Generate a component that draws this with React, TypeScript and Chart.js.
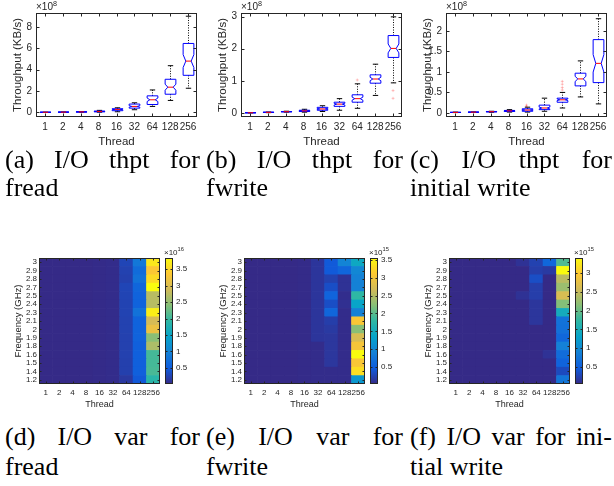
import React, { useEffect, useRef } from 'react';
import { Chart, registerables } from 'chart.js';

Chart.register(...registerables);

const SANS = '"Liberation Sans", Arial, Helvetica, sans-serif';
const SERIF = '"Liberation Serif", "Times New Roman", Times, serif';
const AXIS = '#262626';

// ---------- data ----------
const threads = ['1', '2', '4', '8', '16', '32', '64', '128', '256'];

// (a) fread throughput, x10^8 KB/s
const freadLow = [0.004, 0.006, 0.012, 0.02, 0.06, 0.25, 0.56, 1.12, 2.26];
const freadQ1 = [0.008, 0.015, 0.03, 0.05, 0.16, 0.4, 0.74, 1.7, 3.47];
const freadMed = [0.012, 0.025, 0.05, 0.09, 0.28, 0.56, 1.18, 2.36, 4.8];
const freadQ3 = [0.015, 0.03, 0.06, 0.12, 0.34, 0.78, 1.55, 3.1, 6.45];
const freadHigh = [0.02, 0.04, 0.08, 0.19, 0.43, 0.9, 2.1, 4.37, 9.0];
const freadOut: number[][] = [];

// (b) fwrite throughput, x10^8 KB/s
const fwriteLow = [0.005, 0.015, 0.03, 0.03, 0.05, 0.09, 0.15, 0.55, 0.94];
const fwriteQ1 = [0.01, 0.02, 0.04, 0.05, 0.09, 0.21, 0.34, 0.93, 1.73];
const fwriteMed = [0.012, 0.025, 0.045, 0.07, 0.13, 0.28, 0.45, 1.06, 2.01];
const fwriteQ3 = [0.015, 0.03, 0.05, 0.09, 0.18, 0.34, 0.57, 1.19, 2.41];
const fwriteHigh = [0.02, 0.035, 0.06, 0.12, 0.23, 0.45, 0.91, 1.52, 2.99];
const fwriteOut = [[6, 1.03], [8, 0.7], [8, 0.46]];

// (c) initial write throughput, x10^8 KB/s
const initLow = [0.008, 0.01, 0.015, 0.02, 0.02, 0.04, 0.12, 0.39, 0.22];
const initQ1 = [0.01, 0.015, 0.025, 0.035, 0.04, 0.08, 0.26, 0.66, 0.74];
const initMed = [0.012, 0.018, 0.03, 0.05, 0.07, 0.12, 0.32, 0.83, 1.21];
const initQ3 = [0.015, 0.02, 0.035, 0.06, 0.1, 0.19, 0.36, 0.97, 1.79];
const initHigh = [0.02, 0.025, 0.04, 0.08, 0.14, 0.36, 0.5, 1.27, 2.3];
const initOut = [[4, 0.16], [4, 0.19], [6, 0.56], [6, 0.62], [6, 0.7], [6, 0.77]];

const freadTicks = [0, 2, 4, 6, 8];
const fwriteTicks = [0, 1, 2, 3];
const initTicks = [0, 0.5, 1, 1.5, 2];

// heatmap rows, top (3 GHz) to bottom (1.2 GHz)
const freqs = ['3', '2.9', '2.8', '2.7', '2.5', '2.4', '2.3', '2.1', '2', '1.9', '1.8', '1.6', '1.5', '1.4', '1.2'];

// (d) fread variance, x10^16
const freadVar = [
  [0.01, 0.01, 0.01, 0.01, 0.02, 0.03, 0.27, 0.85, 3.65],
  [0.01, 0.01, 0.01, 0.01, 0.02, 0.03, 0.24, 0.69, 3.34],
  [0.01, 0.01, 0.01, 0.01, 0.02, 0.03, 0.22, 0.77, 3.53],
  [0.01, 0.01, 0.01, 0.01, 0.02, 0.03, 0.27, 0.62, 3.84],
  [0.01, 0.01, 0.01, 0.01, 0.02, 0.03, 0.26, 0.58, 2.72],
  [0.01, 0.01, 0.01, 0.01, 0.02, 0.03, 0.25, 0.58, 2.72],
  [0.01, 0.01, 0.01, 0.01, 0.02, 0.03, 0.25, 0.77, 3.72],
  [0.01, 0.01, 0.01, 0.01, 0.02, 0.03, 0.24, 0.58, 2.92],
  [0.01, 0.01, 0.01, 0.01, 0.02, 0.03, 0.24, 0.58, 3.15],
  [0.01, 0.01, 0.01, 0.01, 0.02, 0.03, 0.23, 0.58, 2.42],
  [0.01, 0.01, 0.01, 0.01, 0.02, 0.03, 0.23, 0.54, 2.65],
  [0.01, 0.01, 0.01, 0.01, 0.02, 0.03, 0.23, 0.54, 2.05],
  [0.01, 0.01, 0.01, 0.01, 0.02, 0.03, 0.22, 0.54, 2.05],
  [0.01, 0.01, 0.01, 0.01, 0.02, 0.03, 0.22, 0.54, 2.07],
  [0.01, 0.01, 0.01, 0.01, 0.02, 0.03, 0.15, 0.46, 1.88],
];

// (e) fwrite variance, x10^15
const fwriteVar = [
  [0.03, 0.03, 0.03, 0.03, 0.04, 0.13, 0.45, 0.95, 1.44],
  [0.03, 0.03, 0.03, 0.03, 0.04, 0.13, 0.45, 0.59, 0.98],
  [0.03, 0.03, 0.03, 0.03, 0.04, 0.13, 0.24, 0.1, 0.91],
  [0.03, 0.03, 0.03, 0.03, 0.04, 0.13, 0.35, 0.1, 0.91],
  [0.03, 0.03, 0.03, 0.03, 0.04, 0.13, 0.56, 0.06, 1.79],
  [0.03, 0.03, 0.03, 0.03, 0.04, 0.13, 0.35, 0.08, 1.37],
  [0.03, 0.03, 0.03, 0.03, 0.04, 0.13, 0.59, 0.05, 0.91],
  [0.03, 0.03, 0.03, 0.03, 0.04, 0.13, 0.21, 0.05, 3.06],
  [0.03, 0.03, 0.03, 0.03, 0.04, 0.13, 0.17, 0.05, 2.25],
  [0.03, 0.03, 0.03, 0.03, 0.04, 0.13, 0.14, 0.05, 2.74],
  [0.03, 0.03, 0.03, 0.03, 0.04, 0.05, 0.14, 0.05, 3.02],
  [0.03, 0.03, 0.03, 0.03, 0.04, 0.05, 0.14, 0.05, 3.55],
  [0.03, 0.03, 0.03, 0.03, 0.04, 0.05, 0.14, 0.05, 3.06],
  [0.03, 0.03, 0.03, 0.03, 0.04, 0.05, 0.05, 0.05, 3.3],
  [0.03, 0.03, 0.03, 0.03, 0.04, 0.05, 0.05, 0.05, 1.19],
];

// (f) initial write variance, x10^15
const initVar = [
  [0.05, 0.05, 0.05, 0.05, 0.05, 0.12, 0.25, 0.59, 1.89],
  [0.05, 0.05, 0.05, 0.05, 0.05, 0.05, 0.22, 0.18, 3.4],
  [0.05, 0.05, 0.05, 0.05, 0.05, 0.05, 0.35, 0.05, 2.43],
  [0.05, 0.05, 0.05, 0.05, 0.05, 0.05, 0.22, 0.05, 2.26],
  [0.05, 0.05, 0.05, 0.05, 0.05, 0.12, 0.22, 0.05, 2.63],
  [0.05, 0.05, 0.05, 0.05, 0.05, 0.05, 0.15, 0.05, 2.13],
  [0.05, 0.05, 0.05, 0.05, 0.05, 0.05, 0.15, 0.05, 1.46],
  [0.05, 0.05, 0.05, 0.05, 0.05, 0.05, 0.15, 0.05, 0.72],
  [0.05, 0.05, 0.05, 0.05, 0.05, 0.05, 0.05, 0.05, 0.69],
  [0.05, 0.05, 0.05, 0.05, 0.05, 0.05, 0.05, 0.05, 0.59],
  [0.05, 0.05, 0.05, 0.05, 0.05, 0.05, 0.05, 0.05, 0.89],
  [0.05, 0.05, 0.05, 0.05, 0.05, 0.05, 0.05, 0.12, 0.65],
  [0.05, 0.05, 0.05, 0.05, 0.05, 0.05, 0.05, 0.05, 0.55],
  [0.05, 0.05, 0.05, 0.05, 0.05, 0.05, 0.05, 0.05, 0.32],
  [0.05, 0.05, 0.05, 0.05, 0.05, 0.05, 0.05, 0.05, 0.75],
];

const freadCbTicks = [0.5, 1, 1.5, 2, 2.5, 3, 3.5];
const fwriteCbTicks = [0.5, 1, 1.5, 2, 2.5, 3, 3.5];
const initCbTicks = [0.5, 1, 1.5, 2, 2.5, 3];

// ---------- colormap ----------
const PARULA = [
  [53, 42, 135], [15, 92, 221], [20, 129, 214], [6, 164, 202], [46, 183, 164],
  [135, 191, 119], [209, 187, 89], [254, 200, 50], [249, 251, 14],
];
function rgb(p: number[]) {
  return `rgb(${Math.round(p[0])},${Math.round(p[1])},${Math.round(p[2])})`;
}
function parula(t: number) {
  const n = PARULA.length;
  const c = Math.max(0, Math.min(1, t)) * (n - 1);
  const i = Math.min(Math.floor(c), n - 2);
  const f = c - i;
  const a = PARULA[i], b = PARULA[i + 1];
  return rgb([a[0] + (b[0] - a[0]) * f, a[1] + (b[1] - a[1]) * f, a[2] + (b[2] - a[2]) * f]);
}

// ---------- plugins ----------
function makeBoxPlugin(low: number[], q1: number[], med: number[], q3: number[], high: number[], out: number[][]) {
  return {
    id: 'boxDraw',
    afterDatasetsDraw(chart: any) {
      const { ctx } = chart;
      const xs = chart.scales.x, ys = chart.scales.y;
      const step = xs.getPixelForValue(1) - xs.getPixelForValue(0);
      const hw = step * 0.3;
      const N = 60;
      ctx.save();
      // outliers (faint)
      ctx.strokeStyle = 'rgba(255,0,0,0.22)';
      ctx.lineWidth = 1;
      ctx.beginPath();
      out.forEach(([i, v]) => {
        const x = xs.getPixelForValue(i), y = ys.getPixelForValue(v);
        ctx.moveTo(x - 1.5, y); ctx.lineTo(x + 1.5, y);
        ctx.moveTo(x, y - 1.5); ctx.lineTo(x, y + 1.5);
      });
      ctx.stroke();
      for (let i = 0; i < med.length; i++) {
        const x = Math.round(xs.getPixelForValue(i)) + 0.5;
        const yl = ys.getPixelForValue(low[i]);
        const y1 = ys.getPixelForValue(q1[i]);
        const ym = ys.getPixelForValue(med[i]);
        const y3 = ys.getPixelForValue(q3[i]);
        const yh = ys.getPixelForValue(high[i]);
        // whiskers
        ctx.strokeStyle = '#000';
        ctx.lineWidth = 1;
        ctx.setLineDash([1, 1.5]);
        ctx.beginPath();
        ctx.moveTo(x, y3); ctx.lineTo(x, yh);
        ctx.moveTo(x, y1); ctx.lineTo(x, yl);
        ctx.stroke();
        ctx.setLineDash([]);
        ctx.beginPath();
        ctx.moveTo(x - hw / 2, yh); ctx.lineTo(x + hw / 2, yh);
        ctx.moveTo(x - hw / 2, yl); ctx.lineTo(x + hw / 2, yl);
        ctx.stroke();
        // notched box
        const nh = (1.57 * (q3[i] - q1[i])) / Math.sqrt(N);
        const yNl = ys.getPixelForValue(Math.max(q1[i], med[i] - nh));
        const yNh = ys.getPixelForValue(Math.min(q3[i], med[i] + nh));
        ctx.strokeStyle = '#0000ff';
        ctx.beginPath();
        ctx.moveTo(x - hw, y1);
        ctx.lineTo(x - hw, yNl);
        ctx.lineTo(x - hw / 2, ym);
        ctx.lineTo(x - hw, yNh);
        ctx.lineTo(x - hw, y3);
        ctx.lineTo(x + hw, y3);
        ctx.lineTo(x + hw, yNh);
        ctx.lineTo(x + hw / 2, ym);
        ctx.lineTo(x + hw, yNl);
        ctx.lineTo(x + hw, y1);
        ctx.closePath();
        ctx.stroke();
        // median
        ctx.strokeStyle = '#ff0000';
        ctx.beginPath();
        ctx.moveTo(x - hw / 2, ym); ctx.lineTo(x + hw / 2, ym);
        ctx.stroke();
      }
      ctx.restore();
    },
  };
}

function drawExponent(ctx: CanvasRenderingContext2D, x: number, y: number, exp: string, size: number) {
  ctx.fillStyle = AXIS;
  ctx.textAlign = 'left';
  ctx.textBaseline = 'alphabetic';
  ctx.font = `${size}px ${SANS}`;
  ctx.fillText('×10', x, y);
  const w = ctx.measureText('×10').width;
  ctx.font = `${size * 0.72}px ${SANS}`;
  ctx.fillText(exp, x + w, y - size * 0.45);
}

function makeAxesPlugin(exp: string | null, expSize: number, tl: number) {
  return {
    id: 'matlabAxes',
    afterDraw(chart: any) {
      const { ctx, chartArea: a } = chart;
      const xs = chart.scales.x, ys = chart.scales.y;
      const L = Math.round(a.left) + 0.5, R = Math.round(a.right) - 0.5;
      const T = Math.round(a.top) + 0.5, B = Math.round(a.bottom) - 0.5;
      ctx.save();
      ctx.strokeStyle = AXIS;
      ctx.lineWidth = 1;
      ctx.strokeRect(L, T, R - L, B - T);
      ctx.beginPath();
      xs.ticks.forEach((_t: any, i: number) => {
        const x = Math.round(xs.getPixelForTick(i)) + 0.5;
        ctx.moveTo(x, B); ctx.lineTo(x, B - tl);
        ctx.moveTo(x, T); ctx.lineTo(x, T + tl);
      });
      ys.ticks.forEach((t: any) => {
        const y = Math.round(ys.getPixelForValue(t.value)) + 0.5;
        ctx.moveTo(L, y); ctx.lineTo(L + tl, y);
        ctx.moveTo(R, y); ctx.lineTo(R - tl, y);
      });
      ctx.stroke();
      if (exp) drawExponent(ctx, a.left, a.top - 3, exp, expSize);
      ctx.restore();
    },
  };
}

function makeCbarPlugin(exp: string) {
  return {
    id: 'cbarFrame',
    afterDraw(chart: any) {
      const { ctx, chartArea: a } = chart;
      const ys = chart.scales.y;
      const L = Math.round(a.left) + 0.5, R = Math.round(a.right) - 0.5;
      const T = Math.round(a.top) + 0.5, B = Math.round(a.bottom) - 0.5;
      ctx.save();
      ctx.strokeStyle = AXIS;
      ctx.lineWidth = 1;
      ctx.strokeRect(L, T, R - L, B - T);
      ctx.beginPath();
      ys.ticks.forEach((t: any) => {
        const y = Math.round(ys.getPixelForValue(t.value)) + 0.5;
        ctx.moveTo(R, y); ctx.lineTo(R - 2, y);
        ctx.moveTo(L, y); ctx.lineTo(L + 2, y);
      });
      ctx.stroke();
      drawExponent(ctx, a.left - 1, a.top - 3, exp, 8);
      ctx.restore();
    },
  };
}

// ---------- configs ----------
function boxConfig(low: number[], q1: number[], med: number[], q3: number[], high: number[], out: number[][], yMin: number, yMax: number, yTicks: number[]) {
  return {
    type: 'bar',
    data: {
      labels: threads,
      datasets: [{
        data: threads.map((_, i) => [q1[i], q3[i]]),
        backgroundColor: 'rgba(0,0,0,0)',
        borderWidth: 0,
      }],
    },
    options: {
      animation: false,
      responsive: false,
      events: [],
      layout: { padding: { top: 13, right: 8, left: 0, bottom: 0 } },
      plugins: { legend: { display: false }, tooltip: { enabled: false } },
      scales: {
        x: {
          grid: { display: false, drawTicks: false },
          border: { display: false },
          ticks: { autoSkip: false, maxRotation: 0, minRotation: 0, color: AXIS, font: { family: SANS, size: 10 }, padding: 4 },
          title: { display: true, text: 'Thread', color: AXIS, font: { family: SANS, size: 11.5 }, padding: { top: 0, bottom: 1 } },
          afterFit: (s: any) => { s.height = 33; },
        },
        y: {
          min: yMin,
          max: yMax,
          grid: { display: false, drawTicks: false },
          border: { display: false },
          afterBuildTicks: (s: any) => { s.ticks = yTicks.map((v) => ({ value: v })); },
          ticks: { autoSkip: false, color: AXIS, font: { family: SANS, size: 10 }, padding: 4, callback: (v: any) => String(v) },
          title: { display: true, text: 'Throughput (KB/s)', color: AXIS, font: { family: SANS, size: 11.5 }, padding: { top: 11, bottom: 0 } },
          afterFit: (s: any) => { s.width = 36; },
        },
      },
    },
    plugins: [makeBoxPlugin(low, q1, med, q3, high, out), makeAxesPlugin('8', 10, 3)],
  };
}

function range(m: number[][]) {
  const flat = m.flat();
  return [Math.min(...flat), Math.max(...flat)];
}

function heatConfig(matrix: number[][]) {
  const [lo, hi] = range(matrix);
  const rows = [...matrix].reverse();
  const labels = [...freqs].reverse();
  return {
    type: 'bar',
    data: {
      labels: threads,
      datasets: rows.map((row, r) => ({
        label: labels[r],
        data: row.map(() => 1),
        backgroundColor: row.map((v) => parula((v - lo) / (hi - lo))),
        borderWidth: 0,
        barPercentage: 1,
        categoryPercentage: 1,
        stack: 'cells',
      })),
    },
    options: {
      animation: false,
      responsive: false,
      events: [],
      layout: { padding: { top: 8, right: 2, left: 0, bottom: 0 } },
      plugins: { legend: { display: false }, tooltip: { enabled: false } },
      scales: {
        x: {
          stacked: true,
          grid: { display: false, drawTicks: false },
          border: { display: false },
          ticks: { autoSkip: false, maxRotation: 0, minRotation: 0, color: AXIS, font: { family: SANS, size: 8 }, padding: 4 },
          title: { display: true, text: 'Thread', color: AXIS, font: { family: SANS, size: 9 }, padding: { top: 0, bottom: 2 } },
          afterFit: (s: any) => { s.height = 28; },
        },
        y: {
          stacked: true,
          min: 0,
          max: labels.length,
          grid: { display: false, drawTicks: false },
          border: { display: false },
          afterBuildTicks: (s: any) => { s.ticks = labels.map((_, i) => ({ value: i + 0.5 })); },
          ticks: { autoSkip: false, color: AXIS, font: { family: SANS, size: 8, lineHeight: 1 }, padding: 2, callback: (_v: any, i: number) => labels[i] },
          title: { display: true, text: 'Frequency (GHz)', color: AXIS, font: { family: SANS, size: 9.5 }, padding: { top: 13, bottom: 0 } },
          afterFit: (s: any) => { s.width = 39; },
        },
      },
    },
    plugins: [makeAxesPlugin(null, 8, 2)],
  };
}

function cbarConfig(matrix: number[][], ticks: number[], exp: string) {
  const [lo, hi] = range(matrix);
  return {
    type: 'bar',
    data: {
      labels: [''],
      datasets: [{
        data: [[lo, hi]],
        backgroundColor: (c: any) => {
          const a = c.chart.chartArea;
          if (!a) return rgb(PARULA[0]);
          const g = c.chart.ctx.createLinearGradient(0, a.bottom, 0, a.top);
          PARULA.forEach((p, i) => g.addColorStop(i / (PARULA.length - 1), rgb(p)));
          return g;
        },
        borderWidth: 0,
        barPercentage: 1,
        categoryPercentage: 1,
      }],
    },
    options: {
      animation: false,
      responsive: false,
      events: [],
      layout: { padding: { top: 18, left: 1, right: 0, bottom: 28 } },
      plugins: { legend: { display: false }, tooltip: { enabled: false } },
      scales: {
        x: { display: false },
        y: {
          position: 'right',
          min: lo,
          max: hi,
          grid: { display: false, drawTicks: false },
          border: { display: false },
          afterBuildTicks: (s: any) => { s.ticks = ticks.map((v) => ({ value: v })); },
          ticks: { autoSkip: false, color: AXIS, font: { family: SANS, size: 8 }, padding: 3, callback: (v: any) => String(v) },
          afterFit: (s: any) => { s.width = 31; },
        },
      },
    },
    plugins: [makeCbarPlugin(exp)],
  };
}

// ---------- components ----------
function ChartCanvas({ left, top, width, height, make }: { left: number; top: number; width: number; height: number; make: () => any }) {
  const ref = useRef<HTMLCanvasElement>(null);
  useEffect(() => {
    const chart = new Chart(ref.current as HTMLCanvasElement, make());
    return () => chart.destroy();
  }, []);
  return (
    <canvas
      ref={ref}
      width={width}
      height={height}
      style={{ position: 'absolute', left, top, width, height }}
    />
  );
}

function Caption({ left, top, width, lh, line1, line2 }: { left: number; top: number; width: number; lh: number; line1: string; line2: string }) {
  return (
    <div style={{ position: 'absolute', left, top, width, fontFamily: SERIF, fontSize: 26, lineHeight: `${lh}px`, color: '#000' }}>
      <div style={{ textAlign: 'justify', textAlignLast: 'justify' as any }}>{line1}</div>
      <div>{line2}</div>
    </div>
  );
}

export default function App() {
  return (
    <div style={{ position: 'absolute', left: 0, top: 0, width: 614, height: 486, background: '#fff', overflow: 'hidden' }}>
      <ChartCanvas left={0} top={0} width={205} height={150}
        make={() => boxConfig(freadLow, freadQ1, freadMed, freadQ3, freadHigh, freadOut, -0.43, 9.3, freadTicks)} />
      <ChartCanvas left={205} top={0} width={205} height={150}
        make={() => boxConfig(fwriteLow, fwriteQ1, fwriteMed, fwriteQ3, fwriteHigh, fwriteOut, -0.12, 3.11, fwriteTicks)} />
      <ChartCanvas left={410} top={0} width={205} height={150}
        make={() => boxConfig(initLow, initQ1, initMed, initQ3, initHigh, initOut, -0.1, 2.44, initTicks)} />

      <Caption left={5} top={146} width={195} lh={28} line1="(a) I/O thpt for" line2="fread" />
      <Caption left={206} top={146} width={197} lh={28} line1="(b) I/O thpt for" line2="fwrite" />
      <Caption left={410} top={146} width={202} lh={28} line1="(c) I/O thpt for" line2="initial write" />

      <ChartCanvas left={0} top={250} width={164} height={162} make={() => heatConfig(freadVar)} />
      <ChartCanvas left={164} top={240} width={40} height={172} make={() => cbarConfig(freadVar, freadCbTicks, '16')} />
      <ChartCanvas left={205} top={250} width={164} height={162} make={() => heatConfig(fwriteVar)} />
      <ChartCanvas left={369} top={240} width={40} height={172} make={() => cbarConfig(fwriteVar, fwriteCbTicks, '15')} />
      <ChartCanvas left={410} top={250} width={164} height={162} make={() => heatConfig(initVar)} />
      <ChartCanvas left={574} top={240} width={40} height={172} make={() => cbarConfig(initVar, initCbTicks, '15')} />

      <Caption left={5} top={422} width={195} lh={30} line1="(d) I/O var for" line2="fread" />
      <Caption left={206} top={422} width={197} lh={30} line1="(e) I/O var for" line2="fwrite" />
      <Caption left={410} top={422} width={202} lh={30} line1="(f) I/O var for ini-" line2="tial write" />
    </div>
  );
}
